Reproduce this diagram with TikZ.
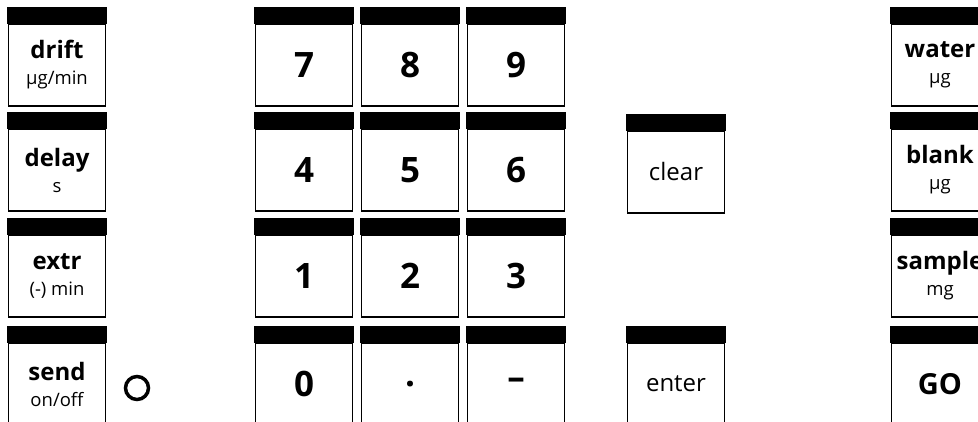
\documentclass[tikz,border=0pt]{standalone}
\usepackage{fontspec}
\setmainfont{Open Sans}
\usepackage{tikz}

\newcommand{\unittext}[1]{{\mdseries\fontsize{18.5}{26}\selectfont #1}}

\begin{document}
\begin{tikzpicture}[x=1pt,y=-1pt,
    key/.style={draw,line width=1.8pt,minimum width=97pt,minimum height=82pt,
      inner sep=0pt,align=center,font=\bfseries\fontsize{24}{26}\selectfont},
    digitkey/.style={key,font=\bfseries\fontsize{35}{36}\selectfont},
    plainkey/.style={key,font=\fontsize{24}{26}\selectfont}]
    \useasboundingbox (0,0) rectangle (978,422);
    \clip (0,0) rectangle (978,422);
    % left column
    \node [key] (drift) at (57,65) {drift\\\unittext{µg/min}};
    \node [key] (delay) at (57,170) {delay\\\unittext{s}};
    \node [key] (extr) at (57,276) {extr\\\unittext{(-) min}};
    \node [key] (send) at (57,384) {send\\\unittext{on/off}};
    \node [circle,draw,line width=3.5pt,minimum size=23pt,inner sep=0pt] (led) at (137,388) {};
    % number block
    \foreach \n/\t/\x/\y in {k7/7/304/65,k8/8/410/65,k9/9/516/65,
        k4/4/304/170,k5/5/410/170,k6/6/516/170,
        k1/1/304/276,k2/2/410/276,k3/3/516/276,
        k0/0/304/384,kdot/./410/384,kminus/--/516/384}
      \node [digitkey] (\n) at (\x,\y) {\t};
    \node [plainkey] (clear) at (676,172) {clear};
    \node [plainkey] (enter) at (676,384) {enter};
    % right column
    \node [key] (water) at (940,65) {water\\\unittext{µg}};
    \node [key] (blank) at (940,170) {blank\\\unittext{µg}};
    \node [key] (sample) at (940,276) {sample\\\unittext{mg}};
    \node [key,font=\bfseries\fontsize{29}{30}\selectfont] (go) at (940,384) {GO};
    % black bars on top of every key
    \foreach \k in {drift,delay,extr,send,k7,k8,k9,k4,k5,k6,k1,k2,k3,k0,kdot,kminus,
        clear,enter,water,blank,sample,go}
      \filldraw [line width=1.8pt] (\k.north west) rectangle ([yshift=15pt]\k.north east);
\end{tikzpicture}
\end{document}
